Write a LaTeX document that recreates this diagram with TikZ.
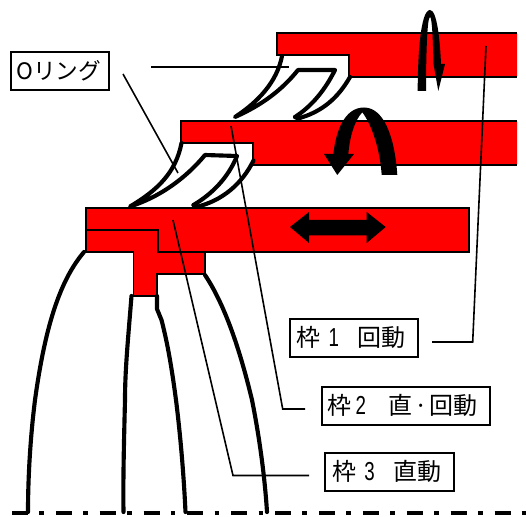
\documentclass[tikz,border=0pt]{standalone}
\usepackage{fontspec}
\setmainfont{Noto Sans CJK JP}
\newfontfamily\latinf[FakeStretch=0.72]{Liberation Sans}
\newcommand{\dg}[1]{{\fontsize{19.5}{20}\latinf #1}}
\tikzset{
  x=0.75pt,y=-0.75pt,
  redpart/.style={fill=red,draw=black,line width=1.4pt,line join=miter},
  ringline/.style={line width=3.1pt,line cap=round,line join=round},
  leader/.style={line width=1.2pt,line join=miter},
  labelbox/.style={draw=black,line width=1.5pt,fill=white,inner sep=0pt,anchor=north west,font=\fontsize{18}{20}\selectfont},
  bigarrow/.style={fill=black,draw=none},
}
\begin{document}
\begin{tikzpicture}
\useasboundingbox (0,0) rectangle (526,517);
% frame 1
\fill[red] (277,33) -- (517,33) -- (517,77) -- (349,77) -- (349,55) -- (277,55) -- cycle;
\draw[redpart,fill=none] (517,33) -- (277,33) -- (277,55) -- (349,55) -- (349,77) -- (517,77);
% frame 2
\fill[red] (181,121) -- (517,121) -- (517,165) -- (253,165) -- (253,143) -- (181,143) -- cycle;
\draw[redpart,fill=none] (517,121) -- (181,121) -- (181,143) -- (253,143) -- (253,165) -- (517,165);
% frame 3
\draw[redpart] (86,208) -- (469,208) -- (469,252) -- (158,252) -- (158,230) -- (86,230) -- cycle;
\draw[redpart] (86,230) -- (158,230) -- (158,252) -- (205,252) -- (205,274) -- (157,274) -- (157,296) -- (133.5,296) -- (133.5,252) -- (86,252) -- cycle;
% O-rings upper
\draw[ringline] (282,56) .. controls (277,82) and (258,102) .. (235,117) .. controls (262,105) and (282,90) .. (298,70) -- (335,70) .. controls (325,90) and (312,106) .. (295,117);
\draw[ringline] (295,117) -- (298,118.5) .. controls (322,112) and (338,98) .. (350,77);
% O-rings middle
\draw[ringline] (181.5,143) .. controls (176,172) and (158,190) .. (130,206.5) .. controls (160,197) and (186,178) .. (205,155) -- (237,156) .. controls (228,178) and (212,194) .. (193.5,205);
\draw[ringline] (193.5,205) -- (196,207) .. controls (222,201) and (242,184) .. (253.5,160.5);
% lower curves
\draw[ringline] (84,252) .. controls (62,278) and (46,320) .. (35,400) .. controls (30,440) and (28,480) .. (28,512);
\draw[ringline] (131.5,296) .. controls (128,340) and (125,370) .. (125,400) .. controls (124,440) and (123,480) .. (123.5,512);
\draw[ringline] (157,296) -- (157,309) -- (161.5,320) .. controls (168,345) and (172,370) .. (176,400) .. controls (181,440) and (184,480) .. (185.5,512);
\draw[ringline] (205,275) .. controls (225,305) and (240,350) .. (252,400) .. controls (260,440) and (265,480) .. (267,512);
% centre line
\draw[line width=3pt,dash pattern=on 12pt off 8.4pt on 3.5pt off 9pt] (12,513) -- (526,513);
% leaders
\coordinate (o1) at (151,67); \coordinate (o1e) at (289,67);
\coordinate (o2) at (123,74); \coordinate (o2e) at (178,173);
\coordinate (f1a) at (486,46); \coordinate (f1b) at (472.7,342); \coordinate (f1c) at (432,342);
\coordinate (f2a) at (231,126); \coordinate (f2b) at (282.7,409); \coordinate (f2c) at (305,409);
\coordinate (f3a) at (173,220); \coordinate (f3b) at (233,475.5); \coordinate (f3c) at (309,475.5);
\draw[leader] (o1) -- (o1e);
\draw[leader] (o2) -- (o2e);
\draw[leader] (f1a) -- (f1b) -- (f1c);
\draw[leader] (f2a) -- (f2b) -- (f2c);
\draw[leader] (f3a) -- (f3b) -- (f3c);
% arrows
\fill[bigarrow] (417.7,91) .. controls (417.7,60) and (420,10) .. (430,10) .. controls (437,10) and (440,40) .. (441,64) -- (445,64) -- (438.3,91) -- (433.5,64) .. controls (433,40) and (432,17) .. (430,17) .. controls (427,17) and (426,60) .. (426,91) -- cycle;
\fill[bigarrow] (397.3,175) .. controls (395,140) and (385,107.5) .. (364,107.5) .. controls (345,107.5) and (336,130) .. (333.3,154) -- (324,154) -- (337.3,175) -- (354,154) -- (348.3,154) .. controls (350,135) and (355,120) .. (362.3,112.3) .. controls (372,125) and (380,150) .. (381.7,175) -- cycle;
\fill[bigarrow] (290,227) -- (309,212) -- (309,220) -- (366.7,220) -- (366.7,212) -- (385.7,227) -- (366.7,243) -- (366.7,235.5) -- (309,235.5) -- (309,243) -- cycle;
% labels
\node[labelbox,minimum width=73.9pt,minimum height=28.5pt] (oring) at (9.5,51) {\makebox[73.9pt][l]{\hspace{4.5pt}\fontsize{17}{20}\selectfont Oリング}};
\node[labelbox,minimum width=95.8pt,minimum height=28.3pt] (w1) at (289,318) {\makebox[95.8pt][l]{\hspace{4.5pt}枠\hspace{6.5pt}\dg{1}\hspace{13.5pt}回動}};
\node[labelbox,minimum width=126pt,minimum height=28.5pt] (w2) at (320.7,385.7) {\makebox[126pt][l]{\hspace{4.5pt}枠\hspace{3pt}\dg{2}\hspace{16.5pt}直\hspace{1.5pt}·\hspace{1.5pt}回動}};
\node[labelbox,minimum width=96.8pt,minimum height=28.5pt] (w3) at (324,451.7) {\makebox[96.8pt][l]{\hspace{5.5pt}枠\hspace{6pt}\dg{3}\hspace{13.7pt}直動}};
\end{tikzpicture}
\end{document}
